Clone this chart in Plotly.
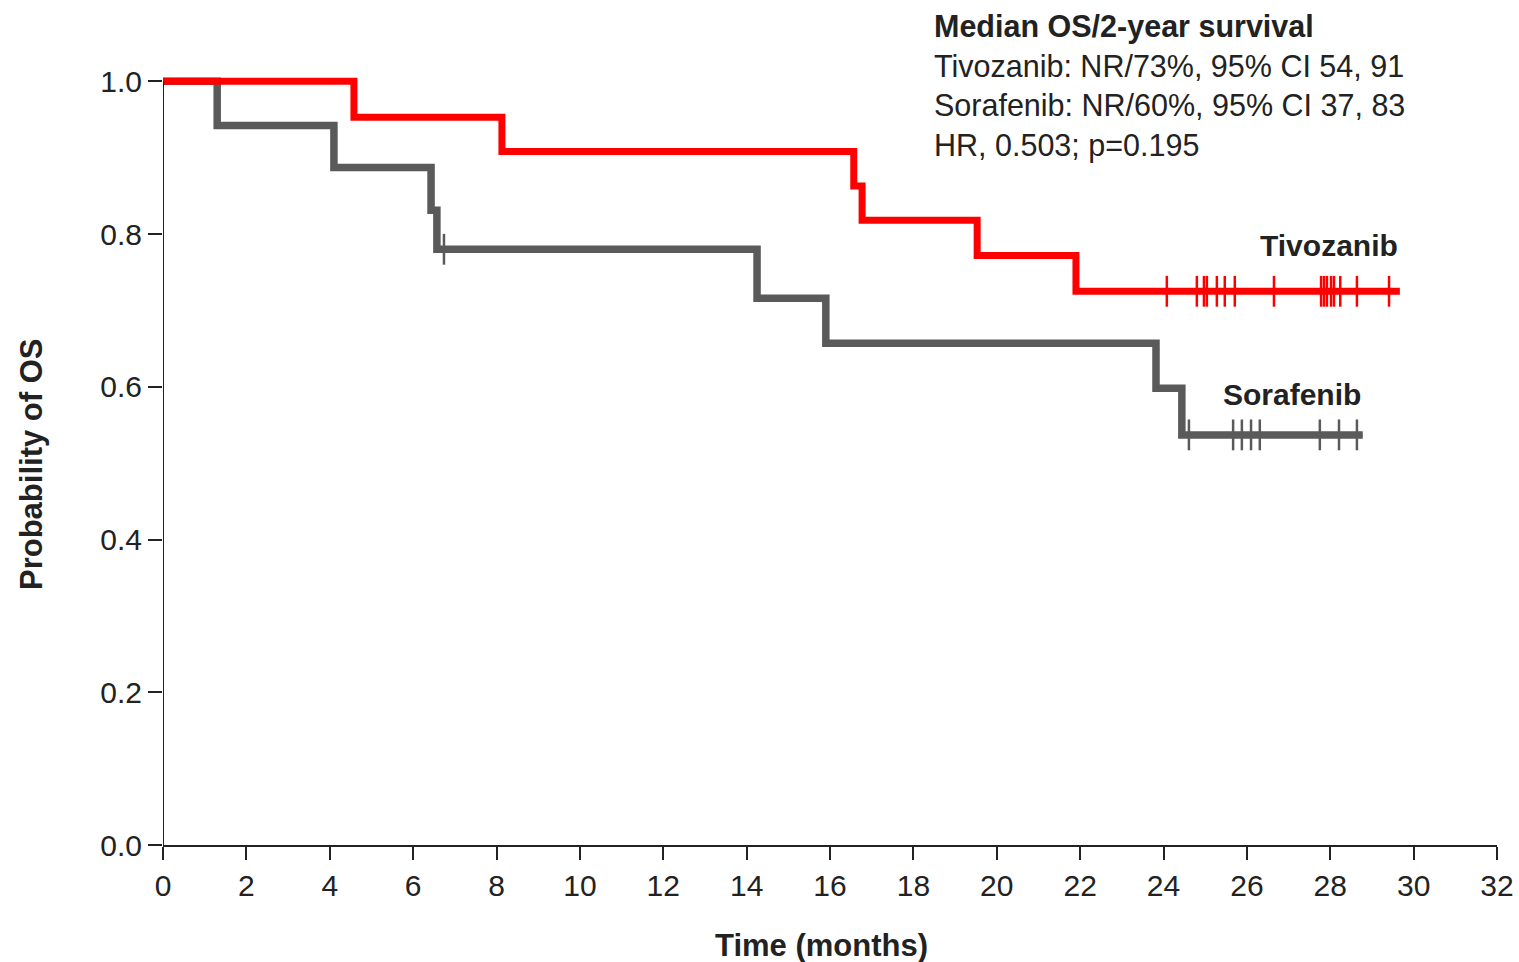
import plotly.graph_objects as go

# ---- data ----
tivo_times = [0.0, 4.58, 8.13, 16.57, 16.77, 19.53, 21.90]
tivo_surv = [1.0, 0.953, 0.908, 0.863, 0.818, 0.772, 0.725]
tivo_end = 29.67
tivo_censor = [24.08, 24.80, 24.97, 25.04, 25.28, 25.47, 25.71, 26.65,
               27.78, 27.85, 27.92, 28.02, 28.09, 28.24, 28.64, 29.41]

sora_times = [0.0, 1.30, 4.10, 6.43, 6.57, 14.25, 15.90, 23.82, 24.44]
sora_surv = [1.0, 0.942, 0.887, 0.831, 0.780, 0.716, 0.657, 0.598, 0.537]
sora_end = 28.78
sora_censor = [6.74, 24.61, 25.67, 25.88, 26.10, 26.31, 27.75, 28.21, 28.64]

x_ticks = list(range(0, 33, 2))
y_ticks = [0.0, 0.2, 0.4, 0.6, 0.8, 1.0]

RED = "#FF0000"
GRAY = "#5A5A5A"
TXT = "#222222"
FONT = "Liberation Sans, Arial, sans-serif"


def surv_at(times, surv, t):
    s = surv[0]
    for ti, si in zip(times, surv):
        if ti <= t:
            s = si
    return s


fig = go.Figure()

for times, surv, end, cens, color, width, name in [
    (sora_times, sora_surv, sora_end, sora_censor, GRAY, 7.5, "Sorafenib"),
    (tivo_times, tivo_surv, tivo_end, tivo_censor, RED, 7, "Tivozanib"),
]:
    fig.add_trace(go.Scatter(
        x=times + [end], y=surv + [surv[-1]],
        mode="lines", line=dict(color=color, width=width, shape="hv"),
        name=name, showlegend=False, hoverinfo="skip",
    ))
    fig.add_trace(go.Scatter(
        x=cens, y=[surv_at(times, surv, t) for t in cens],
        mode="markers",
        marker=dict(symbol="line-ns", size=22, line=dict(color=color, width=2.5)),
        showlegend=False, hoverinfo="skip", cliponaxis=False,
    ))

# y axis line as a shape so it stops at 1.0
fig.add_shape(type="line", xref="x", yref="y", x0=0, x1=0, y0=0, y1=1.0,
              line=dict(color=TXT, width=2))

L, R, T, B = 163, 22, 66, 117
W, H = 1519, 962
PW, PH = W - L - R, H - T - B

fig.add_annotation(x=29.67, y=0.725, xref="x", yref="y", text="<b>Tivozanib</b>",
                   showarrow=False, xanchor="right", yanchor="middle", yshift=(291 - 245),
                   font=dict(family=FONT, size=30, color=TXT))
fig.add_annotation(x=28.78, y=0.537, xref="x", yref="y", text="<b>Sorafenib</b>",
                   showarrow=False, xanchor="right", yanchor="middle", yshift=(435 - 395),
                   font=dict(family=FONT, size=30, color=TXT))

fig.add_annotation(
    x=(932 - L) / PW, y=1 + (T - 7) / PH, xref="paper", yref="paper",
    text=("<b>Median OS/2-year survival</b><br>Tivozanib: NR/73%, 95% CI 54, 91"
          "<br>Sorafenib: NR/60%, 95% CI 37, 83<br>HR, 0.503; p=0.195"),
    showarrow=False, align="left", xanchor="left", yanchor="top",
    font=dict(family=FONT, size=30.5, color=TXT),
)

fig.add_annotation(x=(821 - L) / PW, y=-(945 - 845) / PH, xref="paper", yref="paper",
                   text="<b>Time (months)</b>", showarrow=False,
                   xanchor="center", yanchor="middle",
                   font=dict(family=FONT, size=31, color=TXT))
fig.add_annotation(x=-(163 - 31) / PW, y=(845 - 465) / PH,
                   xref="paper", yref="paper",
                   text="<b>Probability of OS</b>", showarrow=False, textangle=-90,
                   xanchor="center", yanchor="middle",
                   font=dict(family=FONT, size=31, color=TXT))

fig.update_layout(
    width=W, height=H,
    margin=dict(l=L, r=R, t=T, b=B, autoexpand=False),
    paper_bgcolor="white", plot_bgcolor="white",
    font=dict(family=FONT, size=30, color=TXT),
    xaxis=dict(range=[0, 32], tickvals=x_ticks, ticktext=[str(v) for v in x_ticks],
               showgrid=False, zeroline=False, showline=True, linecolor=TXT,
               linewidth=2, ticks="outside", ticklen=13, tickwidth=1.5,
               tickcolor=TXT, tickfont=dict(size=30)),
    yaxis=dict(range=[0, 1.02], tickvals=y_ticks, ticktext=[f"{v:.1f}" for v in y_ticks],
               showgrid=False, zeroline=False, showline=False,
               ticks="outside", ticklen=14, tickwidth=1.5, tickcolor=TXT,
               tickfont=dict(size=30)),
)

fig.write_html("out.html")
